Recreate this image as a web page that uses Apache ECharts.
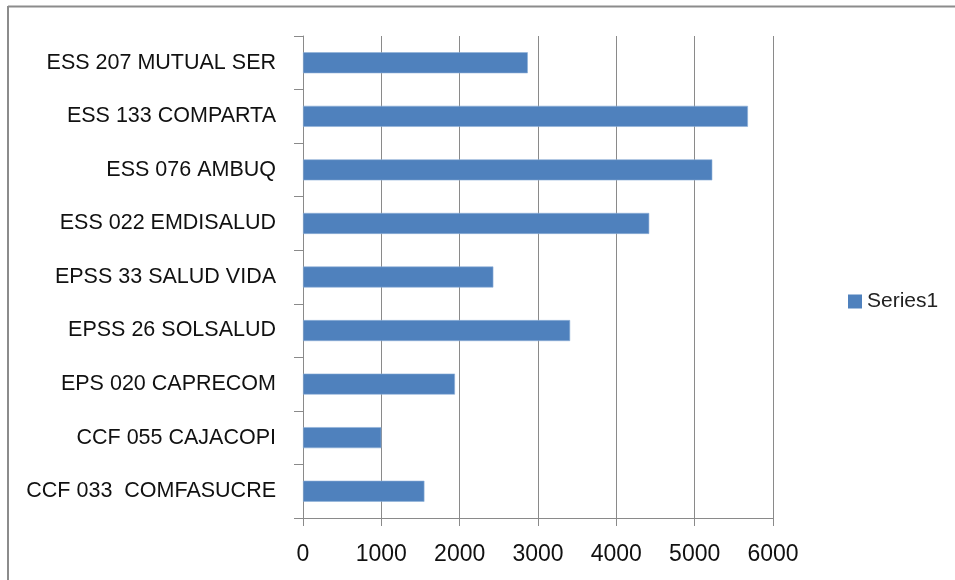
<!DOCTYPE html>
<html>
<head>
<meta charset="utf-8">
<script src="https://cdn.jsdelivr.net/npm/echarts@6/dist/echarts.min.js"></script>
<style>html,body{margin:0;padding:0;background:#fff;}#c{width:955px;height:580px;}</style>
</head>
<body>
<div id="c"></div>
<script>
const categories = ["ESS 207 MUTUAL SER","ESS 133 COMPARTA","ESS 076 AMBUQ","ESS 022 EMDISALUD","EPSS 33 SALUD VIDA","EPSS 26 SOLSALUD","EPS 020 CAPRECOM","CCF 055 CAJACOPI","CCF 033  COMFASUCRE"];
const series1 = [2870, 5680, 5225, 4420, 2430, 3410, 1940, 1000, 1550];
const xTicks = [0, 1000, 2000, 3000, 4000, 5000, 6000];
const seriesName = "Series1";

const chart = echarts.init(document.getElementById('c'), null, {renderer: 'canvas'});
const font = '"Liberation Sans", Arial, sans-serif';
chart.setOption({
  animation: false,
  backgroundColor: '#fff',
  grid: {left: 303, right: 182, top: 36, bottom: 62, containLabel: false},
  legend: {
    data: [seriesName], orient: 'vertical', left: 843, top: 286,
    itemWidth: 14, itemHeight: 14, itemGap: 6, icon: 'rect',
    itemStyle: {borderWidth: 0},
    textStyle: {fontFamily: font, fontSize: 21, color: '#222'}
  },
  xAxis: {
    type: 'value', min: xTicks[0], max: xTicks[xTicks.length - 1], interval: 1000,
    axisLine: {show: true, lineStyle: {color: '#8a8a8a', width: 1}},
    axisTick: {show: true, length: 8, lineStyle: {color: '#8a8a8a'}},
    axisLabel: {fontFamily: font, fontSize: 23, color: '#111', margin: 25, formatter: v => String(v)},
    splitLine: {show: true, lineStyle: {color: '#8a8a8a', width: 1}}
  },
  yAxis: {
    type: 'category', data: categories, inverse: true,
    axisLine: {show: true, lineStyle: {color: '#8a8a8a', width: 1}},
    axisTick: {show: true, length: 9, alignWithLabel: false, lineStyle: {color: '#8a8a8a'}},
    axisLabel: {fontFamily: font, fontSize: 21.5, color: '#111', margin: 27},
    splitLine: {show: false}
  },
  series: [{
    name: seriesName, type: 'bar', data: series1, barWidth: 21,
    itemStyle: {color: '#4f81bd', borderColor: '#8fb0d8', borderWidth: 0.6}
  }],
  graphic: [
    {type: 'line', shape: {x1: 8, y1: 6.5, x2: 955, y2: 6.5}, style: {stroke: '#8c8c8c', lineWidth: 2}},
    {type: 'line', shape: {x1: 8, y1: 6, x2: 8, y2: 580}, style: {stroke: '#8c8c8c', lineWidth: 2}}
  ]
});
</script>
</body>
</html>
